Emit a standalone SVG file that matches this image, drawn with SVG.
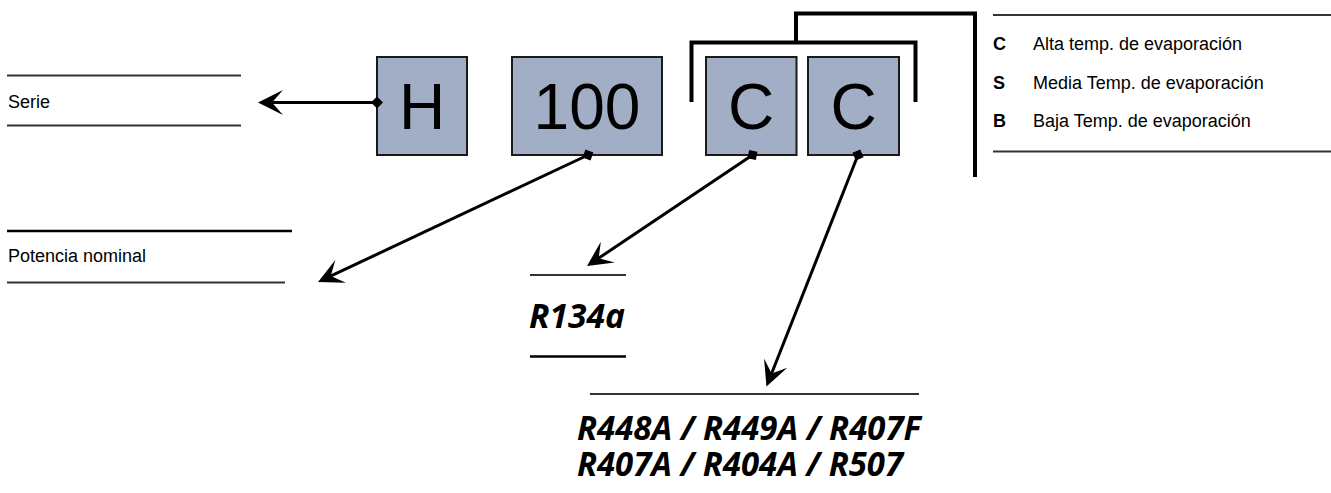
<svg xmlns="http://www.w3.org/2000/svg" width="1331" height="493" viewBox="0 0 1331 493">
<style>
.box{fill:#A1AEC5;stroke:#1a1a1a;stroke-width:2}
.bt{font-family:"Liberation Sans",Arial,sans-serif;font-size:64px;fill:#000;text-anchor:middle}
.lbl{font-family:"Liberation Sans",Arial,sans-serif;font-size:18px;fill:#000}
.key{font-family:"Liberation Sans",Arial,sans-serif;font-size:18px;font-weight:bold;fill:#000}
.ref{font-family:"Open Sans","DejaVu Sans",sans-serif;font-size:34px;font-weight:bold;font-style:italic;fill:#000}
.thin{stroke:#333;stroke-width:1.8;fill:none}
.solid{stroke:#000;stroke-width:2.4;fill:none}
.conn{stroke:#000;stroke-width:3;fill:none;marker-start:url(#dia);marker-end:url(#arr)}
.brk{stroke:#000;stroke-width:4;fill:none}
</style>
<defs>
<marker id="arr" markerUnits="userSpaceOnUse" viewBox="-26 -13 27 26" refX="-12" refY="0" markerWidth="27" markerHeight="26" orient="auto">
<path d="M0,0 L-25,-12.5 L-14,0 L-25,12.5 Z" fill="#000"/>
</marker>
<marker id="dia" markerUnits="userSpaceOnUse" viewBox="-7 -7 14 14" refX="0" refY="0" markerWidth="14" markerHeight="14" orient="auto">
<path d="M6,0 L0,-6 L-6,0 L0,6 Z" fill="#000"/>
</marker>
</defs>

<g id="brackets">
<path class="brk" d="M691.5,102 V42.5 H915.5 V102"/>
<path class="brk" d="M796,42.5 V13.5 H975 V177"/>
</g>

<g id="node-H">
<rect class="box" x="377" y="57" width="90" height="98"/>
<text class="bt" x="422" y="129">H</text>
</g>
<g id="node-100">
<rect class="box" x="512" y="57" width="150" height="98"/>
<text class="bt" x="587" y="129">100</text>
</g>
<g id="node-C1">
<rect class="box" x="706" y="57" width="90.5" height="98"/>
<text class="bt" x="751" y="129">C</text>
</g>
<g id="node-C2">
<rect class="box" x="808" y="57" width="91" height="98"/>
<text class="bt" x="853.5" y="129">C</text>
</g>

<g id="connectors">
<line class="conn" x1="377" y1="102.5" x2="270" y2="102.5"/>
<line class="conn" x1="588" y1="155" x2="328.9" y2="276.9"/>
<line class="conn" x1="752.5" y1="155" x2="597" y2="259.3"/>
<line class="conn" x1="858" y1="155" x2="770.9" y2="375.3"/>
</g>

<g id="label-serie">
<line class="thin" x1="7" y1="75.5" x2="241" y2="75.5"/>
<text class="lbl" x="8" y="108">Serie</text>
<line class="thin" x1="7" y1="125.5" x2="241" y2="125.5"/>
</g>

<g id="label-potencia">
<line class="solid" x1="7" y1="231" x2="292" y2="231"/>
<text class="lbl" x="8" y="261.5">Potencia nominal</text>
<line class="thin" x1="7" y1="282.5" x2="285" y2="282.5"/>
</g>

<g id="label-r134a">
<line class="thin" x1="530" y1="275" x2="626" y2="275"/>
<text class="ref" x="529" y="328" textLength="96" lengthAdjust="spacingAndGlyphs">R134a</text>
<line class="solid" x1="530" y1="356.5" x2="626" y2="356.5"/>
</g>

<g id="label-refrigerants">
<line class="thin" x1="590" y1="394" x2="919" y2="394"/>
<text class="ref"><tspan x="577" y="440" textLength="344" lengthAdjust="spacingAndGlyphs">R448A / R449A / R407F</tspan><tspan x="577" y="475.5" textLength="326" lengthAdjust="spacingAndGlyphs">R407A / R404A / R507</tspan></text>
</g>

<g id="legend">
<line class="thin" x1="993" y1="15" x2="1331" y2="15"/>
<text class="key" x="993" y="50">C</text>
<text class="lbl" x="1033" y="50">Alta temp. de evaporación</text>
<text class="key" x="993" y="88.5">S</text>
<text class="lbl" x="1033" y="88.5">Media Temp. de evaporación</text>
<text class="key" x="993" y="127">B</text>
<text class="lbl" x="1033" y="127">Baja Temp. de evaporación</text>
<line class="thin" x1="993" y1="151.5" x2="1331" y2="151.5"/>
</g>
</svg>
